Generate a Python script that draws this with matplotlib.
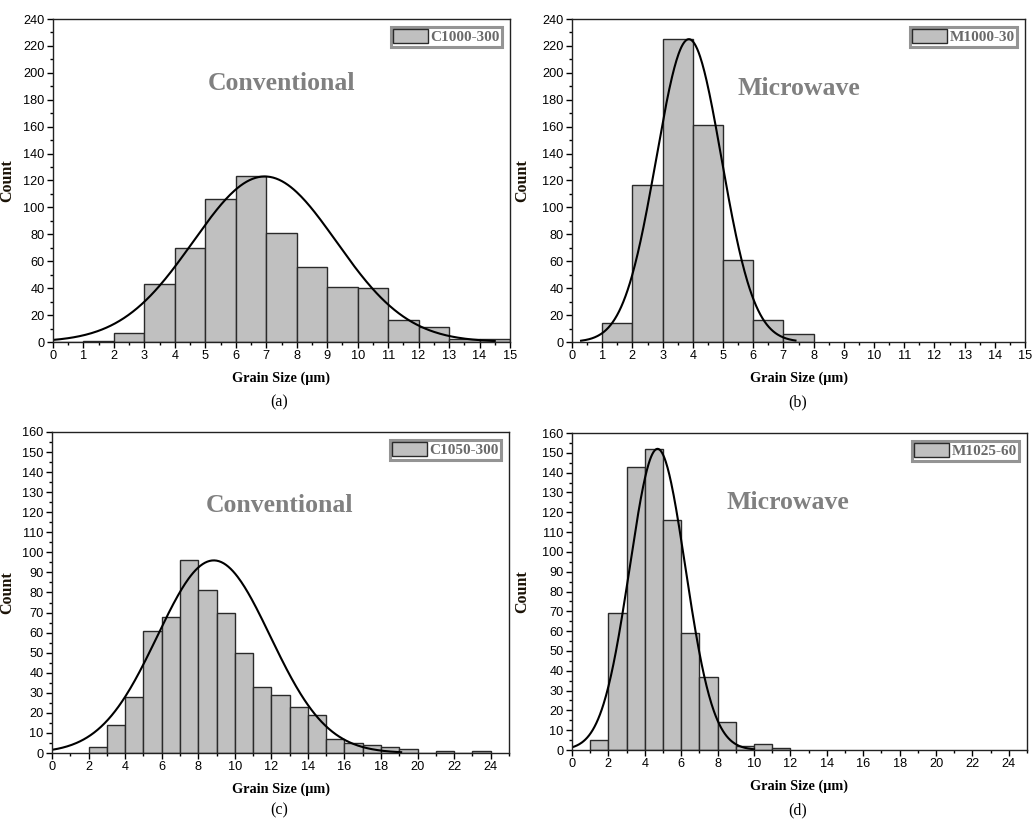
import numpy as np
import matplotlib.pyplot as plt
from matplotlib.ticker import MultipleLocator

# histogram counts (bin width 1 um)
edges_a = [0, 1, 2, 3, 4, 5, 6, 7, 8, 9, 10, 11, 12, 13, 14]
counts_a = [0, 1, 7, 43, 70, 106, 123, 81, 56, 41, 40, 16, 11, 2, 2]

edges_b = [1, 2, 3, 4, 5, 6, 7]
counts_b = [14, 117, 225, 161, 61, 16, 6]

edges_c = [2, 3, 4, 5, 6, 7, 8, 9, 10, 11, 12, 13, 14, 15, 16, 17, 18, 19, 20, 21, 22, 23]
counts_c = [3, 14, 28, 61, 68, 96, 81, 70, 50, 33, 29, 23, 19, 7, 5, 4, 3, 2, 0, 1, 0, 1]

edges_d = [1, 2, 3, 4, 5, 6, 7, 8, 9, 10, 11]
counts_d = [5, 69, 143, 152, 116, 59, 37, 14, 2, 3, 1]

# normal fit: (peak, centre, sigma, x start, x end)
fit_a = (123, 6.95, 2.35, 0.0, 14.5)
fit_b = (225, 3.87, 1.08, 0.3, 7.4)
fit_c = (96, 8.85, 3.09, 0.0, 19.1)
fit_d = (152, 4.7, 1.53, 0.0, 10.0)

names = ['C1000-300', 'M1000-30', 'C1050-300', 'M1025-60']
notes = ['Conventional', 'Microwave', 'Conventional', 'Microwave']
panel_tags = ['(a)', '(b)', '(c)', '(d)']

W, H = 1035, 822
fig = plt.figure(figsize=(W / 100, H / 100), dpi=100)

# axes boxes in pixels: left, right, top, bottom
boxes = [(53, 510, 19, 342), (572, 1025, 19, 342),
         (52, 509, 432, 753), (572, 1027, 433, 750)]
note_pos = [(0.5, 0.80), (0.5, 0.786), (0.498, 0.77), (0.475, 0.78)]
tag_pos = [(279, 402), (798, 402), (279, 810), (798, 810)]

data = [(edges_a, counts_a, fit_a), (edges_b, counts_b, fit_b),
        (edges_c, counts_c, fit_c), (edges_d, counts_d, fit_d)]

serif = 'Liberation Serif'
sans = 'Liberation Sans'

for i, (edges, counts, fit) in enumerate(data):
    l, r, t, b = boxes[i]
    ax = fig.add_axes([l / W, 1 - b / H, (r - l) / W, (b - t) / H])
    ax.bar(edges, counts, width=1, align='edge', color='#c0c0c0',
           edgecolor='#2a2a2a', linewidth=1.0, label=names[i])

    peak, mu, sd, x0, x1 = fit
    xs = np.linspace(x0, x1, 300)
    ax.plot(xs, peak * np.exp(-(xs - mu) ** 2 / (2 * sd ** 2)), color='black', lw=1.5)

    if i < 2:
        ax.set_xlim(0, 15)
        ax.set_ylim(0, 240)
        ax.xaxis.set_major_locator(MultipleLocator(1))
        ax.xaxis.set_minor_locator(MultipleLocator(0.5))
        ax.yaxis.set_major_locator(MultipleLocator(20))
        ax.yaxis.set_minor_locator(MultipleLocator(10))
    else:
        ax.set_xlim(0, 25)
        ax.set_ylim(0, 160)
        ax.xaxis.set_major_locator(MultipleLocator(2))
        ax.xaxis.set_minor_locator(MultipleLocator(1))
        ax.yaxis.set_major_locator(MultipleLocator(10))
        ax.yaxis.set_minor_locator(MultipleLocator(5))

    ax.tick_params(which='major', direction='out', length=4, width=1, pad=2,
                   labelsize=9.2)
    ax.tick_params(which='minor', direction='out', length=2, width=1)
    for lab in ax.get_xticklabels() + ax.get_yticklabels():
        lab.set_fontfamily(sans)
    for sp in ax.spines.values():
        sp.set_linewidth(1.0)
        sp.set_color('#222222')

    ax.set_xlabel('Grain Size (μm)', fontfamily=serif, fontweight='bold', fontsize=10.3)
    ax.set_ylabel('Count', fontfamily=serif, fontweight='bold', fontsize=11.5,
                  color='#1a1206')
    ax.xaxis.set_label_coords(0.5, -30 / (b - t))
    ax.yaxis.set_label_coords(-(l - (15 if l < 300 else 530)) / (r - l), 0.5)

    ax.text(note_pos[i][0], note_pos[i][1], notes[i], transform=ax.transAxes,
            ha='center', va='center', fontfamily=serif, fontweight='bold',
            fontsize=18.5, color='#808080')

    leg = ax.legend(loc='upper right', bbox_to_anchor=(1 - 8 / (r - l), 1 - 8 / (b - t)),
                    frameon=True, fancybox=False, borderpad=0.15, handlelength=2.3,
                    handleheight=1.0, handletextpad=0.15, borderaxespad=0,
                    prop={'family': serif, 'weight': 'bold', 'size': 11})
    leg.get_frame().set_edgecolor('#7a7a7a')
    leg.get_frame().set_linewidth(2.2)
    for txt in leg.get_texts():
        txt.set_color('#6a6a6a')

    fig.text(tag_pos[i][0] / W, 1 - tag_pos[i][1] / H, panel_tags[i], ha='center',
             va='center', fontfamily=serif, fontsize=11.5)

fig.savefig('out.png', dpi=100)
